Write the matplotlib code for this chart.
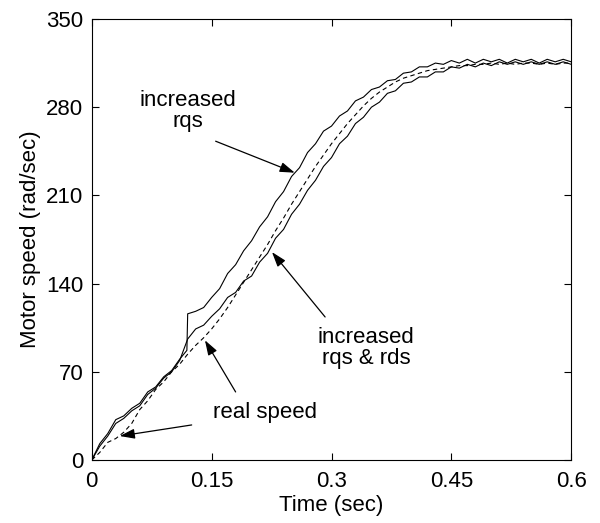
import numpy as np
import matplotlib
matplotlib.use('Agg')
import matplotlib.pyplot as plt

plt.rcParams['font.family'] = ['Liberation Sans', 'DejaVu Sans']

# time grid (s)
t = np.round(np.arange(0, 0.605, 0.01), 2)

# increased rqs (upper, with the step near 0.12 s)
t_rqs = np.insert(t, 12, 0.119)
w_rqs = [0, 13, 21, 32, 35, 41, 45, 54, 58, 66, 71, 80, 87,
         116, 118, 121, 129, 136, 148, 155, 166, 174, 185, 193, 205, 213, 225,
         232, 244, 251, 261, 265, 273, 277, 285, 288, 294, 296, 301, 302, 307,
         308, 312, 312, 315, 314, 317, 315, 318, 315, 318, 316, 318, 315, 318,
         316, 318, 315, 318, 316, 318, 316]

# increased rqs & rds (lower)
w_rqs_rds = [0, 11, 19, 29, 33, 39, 43, 52, 57, 65, 70, 79, 96, 104, 107,
             114, 120, 129, 133, 142, 146, 157, 164, 176, 183, 195, 203, 214,
             222, 233, 240, 251, 257, 267, 272, 280, 284, 291, 293, 299, 300,
             304, 304, 308, 308, 312, 311, 314, 312, 315, 313, 316, 314, 316,
             314, 316, 314, 316, 314, 316, 314]

# real speed (dashed)
w_real = [0, 6, 14, 17, 22, 29, 40, 47, 56, 62, 70, 76, 84, 91, 97, 104, 112,
          121, 131, 141, 151, 161, 171, 182, 192, 203, 213, 223, 233, 242, 251,
          259, 267, 274, 281, 287, 292, 296, 300, 303, 305, 307, 309, 310, 311,
          312, 313, 313, 314, 314, 315, 314, 315, 314, 315, 315, 314, 315, 314,
          315, 315]

xticks = [0, 0.15, 0.3, 0.45, 0.6]
xtick_labels = ['0', '0.15', '0.3', '0.45', '0.6']
yticks = [0, 70, 140, 210, 280, 350]

fig = plt.figure(figsize=(6, 5.23), dpi=100)
ax = fig.add_axes([0.153, 0.1205, 0.799, 0.8432])

ax.plot(t_rqs, w_rqs, color='k', lw=0.8)
ax.plot(t, w_rqs_rds, color='k', lw=0.8)
ax.plot(t, w_real, color='k', lw=0.8, linestyle=(0, (4, 3)))

ax.set_xlim(0, 0.6)
ax.set_ylim(0, 350)
ax.set_xticks(xticks)
ax.set_xticklabels(xtick_labels)
ax.set_yticks(yticks)
ax.tick_params(direction='in', top=True, right=True, labelsize=16, length=5)
ax.tick_params(axis='x', pad=8)
ax.tick_params(axis='y', pad=6)
ax.set_xlabel('Time (sec)', fontsize=16, labelpad=2)
ax.set_ylabel('Motor speed (rad/sec)', fontsize=16, labelpad=4)

arrow = dict(arrowstyle='-|>,head_length=0.9,head_width=0.3', color='k',
             lw=0.9, shrinkA=0, shrinkB=0)

ax.text(0.120, 277, 'increased\nrqs', ha='center', va='center', fontsize=16,
        linespacing=1.0)
ax.annotate('', xy=(0.254, 228), xytext=(0.155, 253), arrowprops=arrow)

ax.text(0.343, 89, 'increased\nrqs & rds', ha='center', va='center',
        fontsize=16, linespacing=1.0)
ax.annotate('', xy=(0.2255, 165), xytext=(0.292, 113.5), arrowprops=arrow)

ax.text(0.217, 38, 'real speed', ha='center', va='center', fontsize=16)
ax.annotate('', xy=(0.1416, 95), xytext=(0.180, 54), arrowprops=arrow)
ax.annotate('', xy=(0.035, 19), xytext=(0.125, 27.8), arrowprops=arrow)

fig.savefig('out.png', dpi=100)
